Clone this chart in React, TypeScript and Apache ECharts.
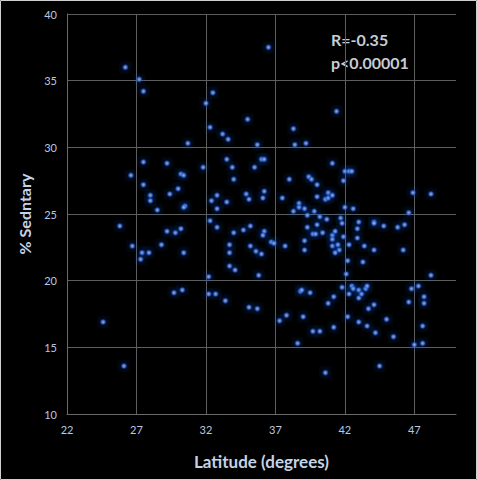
import React, { useEffect, useRef } from "react";
import * as echarts from "echarts";

const latitude: number[] = [
  26.2, 27.2, 27.5, 30.7, 27.5, 29.2, 26.6, 30.2, 30.4, 27.5, 30.0, 28.0, 28.0, 29.4, 28.5, 30.5, 30.4, 25.8, 29.2, 29.8, 30.2,
  32.5, 36.5,
  32.0, 35.0, 32.3, 33.2, 33.6, 35.7, 38.3, 38.4, 39.2, 33.5, 36.0, 36.2, 31.8, 33.9, 35.5, 34.0, 38.0, 39.4, 39.6, 40.0,
  34.9, 35.1, 36.2, 36.1, 37.5, 32.8, 32.4, 33.5, 32.8, 38.7, 38.7, 38.3, 39.1, 40.0, 39.8, 39.3, 40.2, 32.3, 32.8, 34.0,
  34.7, 35.2, 36.2, 36.1, 39.3, 39.7, 39.9, 40.0, 40.4,
  41.4, 41.1, 42.0, 42.3, 42.5, 41.9, 46.9, 48.2, 40.8, 40.6, 40.8, 41.1, 42.0, 42.6, 46.6, 40.7, 41.7, 41.8, 43.0, 42.9,
  44.1, 44.1, 44.8, 45.8, 46.3, 41.1, 41.3, 41.9, 42.9,
  26.7, 27.4, 27.9, 27.3, 28.8, 30.4, 29.7, 30.3, 24.6, 26.1,
  33.7, 33.7, 33.7, 34.1, 35.2, 35.6, 36.0, 36.7, 36.9, 37.7, 39.1, 39.1, 35.8, 32.2, 32.2, 32.7, 33.4, 35.1, 35.7, 38.8,
  38.9, 39.5, 37.3, 37.8, 39.0, 39.7, 40.2, 38.6, 40.6,
  41.1, 41.1, 41.5, 41.6, 41.3, 42.3, 43.4, 44.1, 46.2, 42.2, 43.3, 42.1, 48.2, 41.8, 42.5, 42.6, 43.0, 43.5, 43.6, 43.2,
  42.3, 43.0, 41.2, 40.8, 43.7, 44.1, 46.8, 47.3, 46.6, 47.7, 47.7, 42.2, 43.0, 43.6, 45.0, 44.2, 45.5, 41.2, 47.6, 47.0,
  47.6, 44.5,
];

const sedentary: number[] = [
  36.0, 35.1, 34.2, 30.3, 28.9, 28.8, 27.9, 28.0, 27.9, 27.2, 26.9, 26.4, 26.0, 26.5, 25.3, 25.6, 25.5, 24.1, 23.7, 23.6, 23.9,
  34.1, 37.5,
  33.3, 32.1, 31.5, 31.0, 30.6, 30.2, 31.4, 30.2, 30.3, 29.1, 29.1, 29.1, 28.5, 28.5, 28.5, 27.6, 27.6, 27.8, 27.6, 27.2,
  26.5, 26.1, 26.7, 26.2, 26.2, 26.4, 26.0, 25.9, 25.4, 25.8, 25.5, 25.2, 25.4, 26.3, 25.2, 24.9, 24.8, 24.5, 24.0, 23.6,
  23.8, 24.1, 23.7, 23.4, 24.0, 23.5, 23.5, 24.2, 23.6,
  32.7, 28.8, 28.2, 28.2, 28.2, 27.5, 26.6, 26.5, 26.6, 26.1, 26.2, 26.4, 25.5, 25.4, 25.1, 24.6, 24.7, 24.3, 24.4, 23.9,
  24.4, 24.3, 24.1, 24.0, 24.2, 23.4, 23.7, 23.3, 23.2,
  22.6, 22.1, 22.1, 21.6, 22.7, 22.1, 19.1, 19.3, 16.9, 13.6,
  22.7, 22.1, 21.1, 20.8, 22.6, 22.2, 22.0, 22.9, 22.8, 22.6, 23.0, 22.3, 20.4, 20.3, 19.0, 19.0, 18.5, 18.0, 17.9, 19.2,
  19.3, 19.1, 17.0, 17.4, 17.3, 16.2, 16.2, 15.3, 13.1,
  23.1, 22.6, 22.7, 22.3, 22.1, 22.7, 22.6, 22.3, 22.3, 21.5, 21.4, 20.5, 20.4, 19.5, 19.6, 19.4, 19.3, 19.4, 19.6, 19.0,
  19.0, 18.7, 18.8, 18.3, 17.9, 18.2, 19.4, 19.6, 18.4, 18.8, 18.3, 17.3, 16.9, 16.6, 17.1, 16.1, 15.8, 16.5, 16.6, 15.2,
  15.3, 13.6,
];

const statLines: string[] = ["R=-0.35", "p<0.00001"];
const xTitle = "Latitude (degrees)";
const yTitle = "% Sedntary";

export default function App() {
  const ref = useRef<HTMLDivElement>(null);

  useEffect(() => {
    if (!ref.current) return;
    const chart = echarts.init(ref.current, null, { renderer: "svg" });
    const points = latitude.map((x, i) => [x, sedentary[i]]);
    const font = "Lato, 'Open Sans', sans-serif";
    chart.setOption({
      animation: false,
      backgroundColor: "#000000",
      grid: { left: 67, right: 21, top: 14, bottom: 66, containLabel: false },
      xAxis: {
        type: "value",
        min: 22,
        max: 50,
        interval: 5,
        name: xTitle,
        nameLocation: "middle",
        nameGap: 39,
        nameTextStyle: { color: "#c5d3e8", fontSize: 17, fontWeight: "bold", fontFamily: font },
        axisLine: { show: true, lineStyle: { color: "#6a6a6a", width: 1 } },
        axisTick: { show: false },
        axisLabel: { color: "#b8c8e0", fontSize: 11, fontFamily: font, margin: 10, showMaxLabel: false },
        splitLine: { show: true, showMaxLine: false, lineStyle: { color: "#5e5e5e", width: 1 } },
      },
      yAxis: {
        type: "value",
        min: 10,
        max: 40,
        interval: 5,
        name: yTitle,
        nameLocation: "middle",
        nameGap: 35,
        nameRotate: 90,
        nameTextStyle: { color: "#c5d3e8", fontSize: 16, fontWeight: "bold", fontFamily: font },
        axisLine: { show: true, lineStyle: { color: "#6a6a6a", width: 1 } },
        axisTick: { show: false },
        axisLabel: { color: "#b8c8e0", fontSize: 11, fontFamily: font, margin: 10 },
        splitLine: { show: true, lineStyle: { color: "#5e5e5e", width: 1 } },
      },
      graphic: [
        {
          type: "rect",
          shape: { x: 0.5, y: 0.5, width: 476, height: 479 },
          style: { fill: "none", stroke: "#cfcfcf", lineWidth: 1 },
          silent: true,
        },
        {
          type: "text",
          left: 331,
          top: 31,
          style: { text: statLines[0], fill: "#c8ccd4", fontSize: 16, fontWeight: "bold", fontFamily: font },
        },
        {
          type: "text",
          left: 331,
          top: 54,
          style: { text: statLines[1], fill: "#c8ccd4", fontSize: 16, fontWeight: "bold", fontFamily: font },
        },
      ],
      series: [
        {
          type: "scatter",
          data: points,
          symbol: "circle",
          symbolSize: 4,
          itemStyle: {
            color: "#a8c4f4",
            borderWidth: 2,
            borderColor: "rgba(35,85,205,0.7)",
            shadowBlur: 8,
            shadowColor: "rgba(30,90,235,1)",
          },
        },
      ],
    });
    return () => chart.dispose();
  }, []);

  return (
    <div style={{ position: "fixed", left: 0, top: 0, width: 477, height: 480, background: "#000" }}>
      <div ref={ref} style={{ width: 477, height: 480 }} />
    </div>
  );
}
